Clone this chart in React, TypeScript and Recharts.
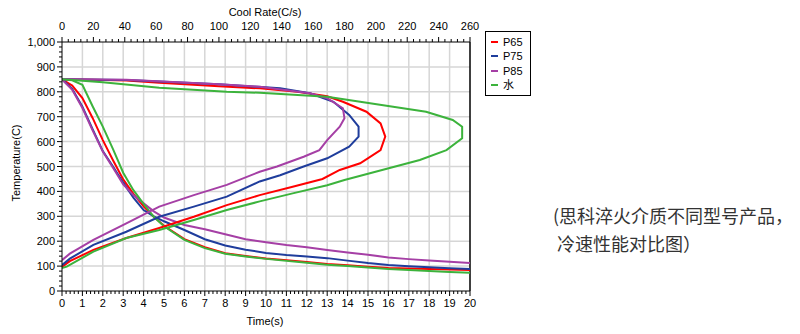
import React from 'react';
import { LineChart, Line, XAxis, YAxis, ReferenceLine, Legend } from 'recharts';

// ---- Temperature vs time (bottom axis, s) ----
const timeSec = [0, 0.5, 1, 1.5, 2, 2.5, 3, 3.5, 4, 4.5, 5, 6, 7, 8, 9, 10, 11, 12, 13, 14, 15, 16, 17, 18, 19, 20];
const p65TimeTemp = [850, 825, 775, 695, 606, 525, 448, 390, 340, 298, 262, 208, 176, 152, 141, 131, 124, 116, 108, 103, 97, 92, 90, 88, 86, 84];
const p75TimeTemp = [850, 812, 740, 650, 562, 500, 435, 375, 325, 300, 280, 245, 208, 183, 166, 153, 145, 139, 132, 122, 112, 104, 99, 95, 91, 88];
const p85TimeTemp = [850, 808, 735, 645, 560, 495, 428, 385, 352, 320, 295, 265, 248, 228, 208, 196, 185, 176, 165, 155, 146, 135, 128, 122, 117, 112];
const waterTimeTemp = [850, 846, 828, 742, 660, 570, 475, 405, 350, 298, 260, 205, 172, 150, 139, 129, 121, 113, 105, 100, 94, 88, 84, 80, 76, 73];

// ---- Cooling rate vs temperature (top axis, C/s) ----
const p65Rate = [0, 20, 41, 62, 100, 126, 150, 169, 179, 194, 203, 206, 203, 190, 177, 166, 147, 126, 105, 84, 62, 41, 20, 5, 0];
const p65RateTemp = [850, 848, 845, 836, 822, 814, 800, 782, 760, 720, 673, 620, 566, 513, 486, 450, 419, 385, 345, 298, 253, 213, 165, 120, 97];
const p75Rate = [0, 41, 100, 139, 158, 173, 183, 189, 189, 183, 169, 154, 139, 126, 105, 84, 62, 41, 20, 5, 0];
const p75RateTemp = [850, 847, 830, 814, 794, 760, 707, 660, 620, 580, 533, 500, 465, 440, 379, 339, 298, 238, 185, 130, 104];
const p85Rate = [0, 41, 100, 126, 158, 169, 179, 180, 177, 169, 164, 154, 137, 126, 105, 84, 62, 41, 20, 5, 0];
const p85RateTemp = [850, 848, 830, 820, 794, 774, 734, 694, 660, 606, 566, 539, 500, 479, 426, 385, 339, 272, 205, 150, 124];
const waterRate = [0, 26, 62, 105, 126, 169, 190, 211, 232, 249, 255, 255, 245, 228, 204, 180, 169, 147, 126, 105, 84, 62, 41, 20, 3, 0];
const waterRateTemp = [850, 838, 816, 800, 796, 780, 760, 740, 720, 687, 660, 613, 566, 526, 486, 446, 425, 392, 360, 325, 285, 245, 213, 158, 98, 92];

// ---- Axis ticks ----
const timeTicks = Array.from({ length: 101 }, (_, i) => Math.round(i * 2) / 10);
const rateTicks = Array.from({ length: 66 }, (_, i) => i * 4);
const tempTicks = Array.from({ length: 51 }, (_, i) => i * 20);
const timeGrid = [1, 2, 3, 4, 5, 6, 7, 8, 9, 10, 11, 12, 13, 14, 15, 16, 17, 18, 19];
const tempGrid = [100, 200, 300, 400, 500, 600, 700, 800, 900];

const seriesNames = ['P65', 'P75', 'P85', '水'];
const seriesColors = ['#ff0000', '#1f3d9c', '#a53fa5', '#3cb33c'];

const timeData = (temps: number[]) => timeSec.map((t, i) => ({ t, T: temps[i] }));
const rateData = (rates: number[], temps: number[]) => rates.map((r, i) => ({ r, T: temps[i] }));

const timeSeries = [p65TimeTemp, p75TimeTemp, p85TimeTemp, waterTimeTemp].map(timeData);
const rateSeries = [
  rateData(p65Rate, p65RateTemp),
  rateData(p75Rate, p75RateTemp),
  rateData(p85Rate, p85RateTemp),
  rateData(waterRate, waterRateTemp),
];

const FONT = "'Liberation Sans', Arial, 'Noto Sans CJK SC', sans-serif";

const BottomTick = (props: any) => {
  const { x, y, payload } = props;
  const v = payload.value;
  const major = Math.abs(v - Math.round(v)) < 1e-6;
  return (
    <g>
      <line x1={x} x2={x} y1={y} y2={y + (major ? 5 : 3)} stroke="#000" strokeWidth={1} />
      {major && (
        <text x={x} y={y + 16} textAnchor="middle" fontSize={11} fontFamily={FONT} fill="#000">
          {Math.round(v)}
        </text>
      )}
    </g>
  );
};

const TopTick = (props: any) => {
  const { x, y, payload } = props;
  const v = payload.value;
  const major = v % 20 === 0;
  return (
    <g>
      <line x1={x} x2={x} y1={y} y2={y - (major ? 5 : 3)} stroke="#000" strokeWidth={1} />
      {major && (
        <text x={x} y={y - 12} textAnchor="middle" fontSize={11} fontFamily={FONT} fill="#000">
          {v}
        </text>
      )}
    </g>
  );
};

const LeftTick = (props: any) => {
  const { x, y, payload } = props;
  const v = payload.value;
  const major = v % 100 === 0;
  return (
    <g>
      <line x1={x} x2={x - (major ? 5 : 3)} y1={y} y2={y} stroke="#000" strokeWidth={1} />
      {major && (
        <text x={x - 7} y={y + 4} textAnchor="end" fontSize={11} fontFamily={FONT} fill="#000">
          {v.toLocaleString('en-US')}
        </text>
      )}
    </g>
  );
};

const LegendBox = (props: any) => {
  const items = (props.payload || []).filter((p: any) => p.type !== 'none');
  return (
    <div
      style={{
        width: 46,
        height: 65,
        border: '1px solid #000',
        background: '#fff',
        boxSizing: 'border-box',
        position: 'relative',
      }}
    >
      {items.map((it: any, i: number) => (
        <div
          key={it.value}
          style={{
            position: 'absolute',
            left: 5,
            top: 3 + i * 14.4,
            height: 14,
            display: 'flex',
            alignItems: 'center',
            whiteSpace: 'nowrap',
          }}
        >
          <span style={{ display: 'inline-block', width: 7, height: 2, background: it.color, marginRight: 5 }} />
          <span style={{ fontFamily: FONT, fontSize: 11, color: '#000', lineHeight: '14px' }}>{it.value}</span>
        </div>
      ))}
    </div>
  );
};

export default function App() {
  return (
    <div style={{ position: 'absolute', left: 0, top: 0, width: 800, height: 334, background: '#fff' }}>
      <LineChart width={800} height={334} margin={{ top: 12, right: 330, bottom: 13, left: 0 }}>
        <XAxis
          xAxisId="time"
          dataKey="t"
          type="number"
          orientation="bottom"
          domain={[0, 20]}
          ticks={timeTicks}
          interval={0}
          height={30}
          tickSize={0}
          tickMargin={0}
          tick={<BottomTick />}
          tickLine={false}
          axisLine={{ stroke: '#000' }}
          allowDataOverflow
        />
        <XAxis
          xAxisId="rate"
          dataKey="r"
          type="number"
          orientation="top"
          domain={[0, 260]}
          ticks={rateTicks}
          interval={0}
          height={30}
          tickSize={0}
          tickMargin={0}
          tick={<TopTick />}
          tickLine={false}
          axisLine={{ stroke: '#000' }}
          allowDataOverflow
        />
        <YAxis
          yAxisId="temp"
          dataKey="T"
          type="number"
          domain={[0, 1000]}
          ticks={tempTicks}
          interval={0}
          width={62}
          tickSize={0}
          tickMargin={0}
          tick={<LeftTick />}
          tickLine={false}
          axisLine={{ stroke: '#000' }}
          allowDataOverflow
        />
        {timeGrid.map((g) => (
          <ReferenceLine key={'vx' + g} x={g} xAxisId="time" yAxisId="temp" stroke="#d6d6d6" strokeWidth={1.5} />
        ))}
        {tempGrid.map((g) => (
          <ReferenceLine key={'hy' + g} y={g} xAxisId="time" yAxisId="temp" stroke="#d6d6d6" strokeWidth={1.5} />
        ))}
        <ReferenceLine x={20} xAxisId="time" yAxisId="temp" stroke="#000" strokeWidth={1.5} />
        {timeSeries.map((d, i) => (
          <Line
            key={'t' + i}
            data={d}
            dataKey="T"
            name={seriesNames[i]}
            xAxisId="time"
            yAxisId="temp"
            type="linear"
            stroke={seriesColors[i]}
            strokeWidth={2}
            dot={false}
            isAnimationActive={false}
          />
        ))}
        {rateSeries.map((d, i) => (
          <Line
            key={'r' + i}
            data={d}
            dataKey="T"
            name={seriesNames[i] + ' rate'}
            legendType="none"
            xAxisId="rate"
            yAxisId="temp"
            type="linear"
            stroke={seriesColors[i]}
            strokeWidth={2}
            dot={false}
            isAnimationActive={false}
          />
        ))}
        <Legend
          layout="vertical"
          align="center"
          verticalAlign="middle"
          content={<LegendBox />}
          wrapperStyle={{ left: 485, top: 31, width: 46, height: 65 }}
        />
      </LineChart>
      <svg
        width={800}
        height={334}
        style={{ position: 'absolute', left: 0, top: 0, pointerEvents: 'none' }}
      >
        <text x={265} y={16} textAnchor="middle" fontSize={11} fontFamily={FONT} fill="#000">
          Cool Rate(C/s)
        </text>
        <text x={265} y={325} textAnchor="middle" fontSize={11} fontFamily={FONT} fill="#000">
          Time(s)
        </text>
        <text
          x={20}
          y={163}
          textAnchor="middle"
          fontSize={11}
          fontFamily={FONT}
          fill="#000"
          transform="rotate(-90, 20, 163)"
        >
          Temperature(C)
        </text>
        <text x={553} y={223} fontSize={18} fontFamily="'Noto Sans CJK SC', sans-serif" fill="#333">
          (思科淬火介质不同型号产品，
        </text>
        <text x={557} y={251} fontSize={18} fontFamily="'Noto Sans CJK SC', sans-serif" fill="#333">
          冷速性能对比图）
        </text>
      </svg>
    </div>
  );
}
